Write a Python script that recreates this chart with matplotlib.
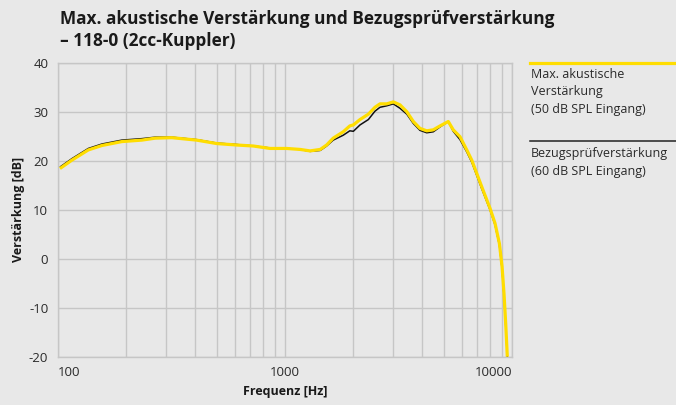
import matplotlib
matplotlib.use("Agg")
import matplotlib.pyplot as plt
from matplotlib.ticker import FixedLocator, NullFormatter
from matplotlib.lines import Line2D

# ---- data ----
freq = [102, 115, 136, 156, 191, 234, 268, 317, 408, 500, 613, 725, 859, 1017,
        1165, 1290, 1430, 1525, 1630, 1805, 1930, 2000, 2140, 2330, 2490, 2620,
        2805, 3000, 3210, 3440, 3675, 3930, 4210, 4500, 4820, 5240, 5510, 5900,
        6320, 6650, 7355, 8000, 8420, 8800, 9040, 9220, 9380, 9535]
max_gain = [18.4, 20.1, 22.2, 23.1, 23.9, 24.2, 24.6, 24.7, 24.2, 23.5, 23.2, 23.0, 22.5, 22.5,
            22.3, 22.0, 22.3, 23.2, 24.6, 25.9, 27.1, 27.3, 28.4, 29.5, 30.9, 31.6,
            31.6, 32.0, 31.4, 30.0, 28.0, 26.6, 26.1, 26.3, 27.1, 28.0, 26.3, 24.9,
            22.2, 20.1, 14.7, 10.3, 7.2, 3.1, -1.6, -7.1, -13.2, -20.0]
ref_gain = [18.7, 20.4, 22.5, 23.4, 24.2, 24.5, 24.8, 24.8, 24.3, 23.6, 23.3, 23.0, 22.6, 22.5,
            22.3, 21.9, 22.1, 23.0, 24.2, 25.2, 26.1, 26.0, 27.3, 28.4, 30.1, 30.9,
            31.2, 31.6, 30.7, 29.5, 27.6, 26.2, 25.7, 25.9, 26.9, 28.0, 26.0, 24.3,
            21.8, 19.7, 14.3, 10.0, 6.9, 2.8, -2.0, -7.5, -13.6, -20.0]

title = "Max. akustische Verstärkung und Bezugsprüfverstärkung\n– 118-0 (2cc-Kuppler)"
legend_labels = ["Max. akustische\nVerstärkung\n(50 dB SPL Eingang)",
                 "Bezugsprüfverstärkung\n(60 dB SPL Eingang)"]
x_major = [100, 1000, 10000]
x_minor = [200, 300, 400, 500, 600, 700, 800, 900,
           2000, 3000, 4000, 5000, 6000, 7000, 8000, 9000]
y_ticks = [-20, -10, 0, 10, 20, 30, 40]

# ---- style ----
BG = "#e8e8e8"
GRID = "#c6c6c6"
TXT = "#2a2a2a"
YEL = "#ffdd00"
plt.rcParams['font.family'] = ['Open Sans', 'DejaVu Sans']

W, H = 676, 405
fig = plt.figure(figsize=(W / 100, H / 100), dpi=100, facecolor=BG)
ax = fig.add_axes([58 / W, 1 - 356.7 / H, 454 / W, 294 / H], facecolor=BG)

ax.plot(freq, ref_gain, color="#111111", lw=1.1, zorder=3, solid_capstyle='butt')
ax.plot(freq, max_gain, color=YEL, lw=2.3, zorder=4, solid_capstyle='butt')

ax.set_xscale('log')
ax.set_xlim(100, 10000)
ax.set_ylim(-20, 40)
ax.xaxis.set_major_locator(FixedLocator(x_major))
ax.xaxis.set_minor_locator(FixedLocator(x_minor))
ax.xaxis.set_minor_formatter(NullFormatter())
ax.set_xticklabels([str(v) for v in x_major])
ax.set_yticks(y_ticks)
ax.set_yticklabels([str(v) for v in y_ticks])
ax.grid(True, which='both', axis='x', color=GRID, lw=1.0, zorder=1)
ax.grid(True, which='major', axis='y', color=GRID, lw=1.0, zorder=1)
ax.tick_params(which='both', length=0, labelsize=9.5, labelcolor=TXT)
ax.tick_params(axis='y', pad=7)
ax.tick_params(axis='x', pad=7)
labs = ax.get_xticklabels()
labs[0].set_ha('left')
labs[-1].set_ha('right')
for s in ax.spines.values():
    s.set_color(GRID)
    s.set_linewidth(1.0)

ax.set_xlabel("Frequenz [Hz]", fontsize=9, fontweight='bold', color="#1a1a1a", labelpad=4)
ax.set_ylabel("Verstärkung [dB]", fontsize=9, fontweight='bold', color="#1a1a1a", labelpad=3)

fig.text(60 / W, 1 - 10 / H, title, fontsize=12.4, fontweight='bold', color="#1a1a1a",
         va='top', ha='left', linespacing=1.3)

# legend on the right
fig.add_artist(Line2D([530 / W, 1.0], [1 - 62.7 / H] * 2, color=YEL, lw=2.3,
                      transform=fig.transFigure))
fig.text(531 / W, 1 - 68.5 / H, legend_labels[0], fontsize=9, color=TXT,
         va='top', ha='left', linespacing=1.4)
fig.add_artist(Line2D([530 / W, 1.0], [1 - 140.7 / H] * 2, color="#222222", lw=1.1,
                      transform=fig.transFigure))
fig.text(531 / W, 1 - 147.5 / H, legend_labels[1], fontsize=9, color=TXT,
         va='top', ha='left', linespacing=1.4)

fig.savefig("out.png", dpi=100, facecolor=BG)
